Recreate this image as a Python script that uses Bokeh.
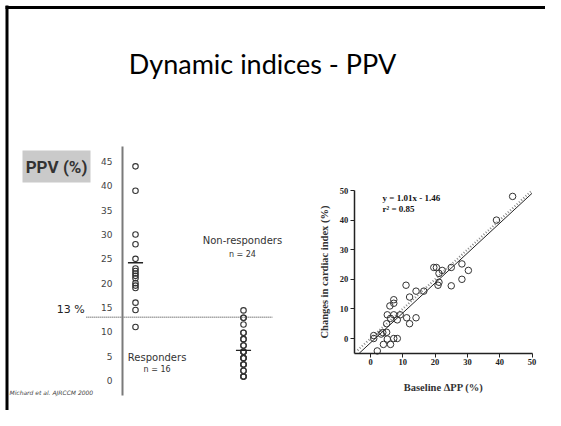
import numpy as np
from bokeh.plotting import figure
from bokeh.models import Range1d, LinearAxis, FixedTicker
from bokeh.embed import file_html
from bokeh.resources import INLINE
from bokeh.core.properties import value

# ---------------- data ----------------
title_text = "Dynamic indices - PPV"
group_labels = ["Responders", "Non-responders"]
group_n = [16, 24]
group_pos = [1, 2]
responders_ppv = [44, 39, 30, 28, 25, 23, 22.5, 22, 21.5, 21, 20, 19.5, 19, 16, 14.5, 11]
nonresponders_ppv = [14.4, 12.9, 12.9, 11.5, 9.8, 9.8, 8.5, 8.5, 7.2, 7.2, 5.9, 5.9,
                     5.9, 4.6, 4.6, 4.6, 3.3, 3.3, 3.3, 2.0, 2.0, 0.8, 0.8, 0.8]
group_means = [24.2, 6.2]
threshold_ppv = 13
ppv_ticks = [0, 5, 10, 15, 20, 25, 30, 35, 40, 45]
citation = "Michard et al. AJRCCM 2000"

baseline_dpp = [44.0, 39.0, 30.3, 28.3, 28.3, 25.0, 25.0, 22.2, 21.2, 19.6, 20.4, 21.2, 20.9,
                16.5, 14.1, 11.0, 12.1, 7.2, 7.2, 6.0, 5.2, 7.2, 9.2, 8.3, 6.2, 11.2, 14.1,
                12.1, 5.0, 5.0, 3.3, 1.0, 1.0, 5.2, 7.2, 8.3, 4.0, 6.2, 2.1, 3.8]
change_ci = [48.0, 40.0, 23.0, 25.2, 20.0, 24.0, 17.8, 23.0, 22.0, 24.0, 24.0, 19.0, 18.0,
             16.0, 16.0, 18.0, 14.0, 13.1, 11.9, 11.0, 8.0, 8.0, 8.0, 6.3, 6.8, 7.0, 7.0,
             5.0, 5.0, 2.1, 1.5, 1.0, 0.0, -0.2, 0.0, 0.0, -2.0, -2.0, -4.2, 2.0]
reg_slope = 1.01
reg_intercept = -1.46
r_squared = 0.85
ci_ticks = [0, 10, 20, 30, 40, 50]
ci_min, ci_max = -5, 50

# ---------------- layout helpers (pixel anchors) ----------------
W, H = 545, 410
X0, Y0 = 0, 0
XR = (X0, X0 + W)
YR = (Y0 + H, Y0)        # bottom, top


def lin_range(v0, p0, v1, p1, pixels):
    s = (v1 - v0) / (p1 - p0)
    return Range1d(v0 + (pixels[0] - p0) * s, v0 + (pixels[1] - p0) * s)


p = figure(width=W, height=H, output_backend="svg", toolbar_location=None,
           x_range=Range1d(*XR), y_range=Range1d(*YR),
           x_axis_location=None, y_axis_location=None, min_border=0)
p.grid.visible = False
p.outline_line_color = None
p.background_fill_color = "white"
p.border_fill_color = "white"

# left chart ranges: group 1 at x=135, group 2 at x=243 ; PPV 0 at y=380, 45 at y=161
p.extra_x_ranges["gx"] = lin_range(1, 135, 2, 243, XR)
p.extra_y_ranges["ppv"] = lin_range(0, 380, 45, 161, YR)
# right chart ranges
p.extra_x_ranges["dpp"] = lin_range(0, 370, 50, 531.5, XR)
p.extra_y_ranges["ci"] = lin_range(0, 338, 50, 190, YR)

# slide border
p.segment(x0=[6.5, 5], y0=[5, 7], x1=[6.5, 545], y1=[410, 7], line_color="black", line_width=3)

# title
p.text(x=[262], y=[63], text=[title_text], text_font=value("Lato"), text_font_size="27px",
       text_align="center", text_baseline="middle", text_color="black")

# ---------- left chart ----------
p.quad(left=[22], right=[90], top=[150], bottom=[182], fill_color="#cacaca", line_color=None)
p.text(x=[56], y=[166], text=["PPV (%)"], text_font=value("Roboto"), text_font_style="bold",
       text_font_size="17px", text_align="center", text_baseline="middle", text_color="#333333")

yax = LinearAxis(x_range_name="gx", y_range_name="ppv", fixed_location=1 - 13 / 108,
                 bounds=(-3, 48), ticker=FixedTicker(ticks=ppv_ticks))
yax.axis_line_color = "#7a7a7a"
yax.axis_line_width = 2
yax.major_tick_line_color = None
yax.minor_tick_line_color = None
yax.major_tick_out = 0
yax.major_tick_in = 0
yax.major_label_standoff = 10
yax.major_label_text_font = "DejaVu Sans"
yax.major_label_text_font_size = "9px"
yax.major_label_text_color = "#444444"
p.add_layout(yax, "left")

# threshold line
p.segment(x0=[0.545], x1=[2.27], y0=[threshold_ppv], y1=[threshold_ppv],
          x_range_name="gx", y_range_name="ppv", line_color="#777777", line_width=1.5,
          line_dash="1 1")
p.text(x=[0.53], y=[threshold_ppv + 0.2], text=[f"{threshold_ppv} %"], x_range_name="gx",
       y_range_name="ppv", text_font=value("DejaVu Sans"), text_font_size="11px",
       text_align="right", text_baseline="bottom", text_color="#222222")

p.scatter(x=[group_pos[0]] * len(responders_ppv), y=responders_ppv, x_range_name="gx",
          y_range_name="ppv", marker="circle", size=5.5, fill_color=None,
          line_color="#333333", line_width=1.1)
p.scatter(x=[group_pos[1]] * len(nonresponders_ppv), y=nonresponders_ppv, x_range_name="gx",
          y_range_name="ppv", marker="circle", size=5.5, fill_color=None,
          line_color="#333333", line_width=1.1)
p.segment(x0=[g - 0.07 for g in group_pos], x1=[g + 0.07 for g in group_pos],
          y0=group_means, y1=group_means, x_range_name="gx", y_range_name="ppv",
          line_color="#222222", line_width=1.3)

p.text(x=[1.2, 1.2], y=[4.8, 2.2], text=[group_labels[0], f"n = {group_n[0]}"],
       x_range_name="gx", y_range_name="ppv", text_font=value("DejaVu Sans"),
       text_font_size=["10px", "8px"], text_align="center", text_baseline="middle",
       text_color="#333333")
p.text(x=[1.99, 1.99], y=[28.8, 25.9], text=[group_labels[1], f"n = {group_n[1]}"],
       x_range_name="gx", y_range_name="ppv", text_font=value("DejaVu Sans"),
       text_font_size=["10px", "8px"], text_align="center", text_baseline="middle",
       text_color="#333333")

p.text(x=[9], y=[392], text=[citation], text_font=value("DejaVu Sans"),
       text_font_style="italic", text_font_size="6px", text_align="left",
       text_baseline="middle", text_color="#444444")

# ---------- right chart ----------
def style_ci_axis(ax):
    ax.axis_line_color = "#222222"
    ax.axis_line_width = 1.5
    ax.major_tick_line_color = "#222222"
    ax.major_tick_out = 4
    ax.major_tick_in = 0
    ax.minor_tick_line_color = None
    ax.major_label_standoff = 2
    ax.major_label_text_font = "Liberation Serif"
    ax.major_label_text_font_style = "bold"
    ax.major_label_text_font_size = "8.5px"
    ax.major_label_text_color = "#222222"
    ax.axis_label_text_font = "Liberation Serif"
    ax.axis_label_text_font_style = "bold"
    ax.axis_label_text_font_size = "10.5px"
    ax.axis_label_text_color = "#333333"


cy = LinearAxis(x_range_name="dpp", y_range_name="ci", fixed_location=ci_min,
                bounds=(ci_min, ci_max), ticker=FixedTicker(ticks=ci_ticks),
                axis_label="Changes in cardiac index (%)")
style_ci_axis(cy)
cy.axis_label_standoff = 7
p.add_layout(cy, "left")

cx = LinearAxis(x_range_name="dpp", y_range_name="ci", fixed_location=ci_min,
                bounds=(ci_min, ci_max), ticker=FixedTicker(ticks=ci_ticks),
                axis_label="Baseline \u0394PP (%)")
style_ci_axis(cx)
cx.axis_label_standoff = 13
p.add_layout(cx, "below")

# identity (dotted) and regression (solid) lines
p.line(x=[-4, ci_max], y=[-4, ci_max], x_range_name="dpp", y_range_name="ci",
       line_color="#8a8a8a", line_width=2.2, line_dash="1 2")
reg_x = np.array([(ci_min - reg_intercept) / reg_slope, ci_max])
p.line(x=reg_x, y=reg_slope * reg_x + reg_intercept, x_range_name="dpp", y_range_name="ci",
       line_color="#222222", line_width=1)

p.scatter(x=baseline_dpp, y=change_ci, x_range_name="dpp", y_range_name="ci",
          marker="circle", size=6.5, fill_color=None, line_color="#333333", line_width=1)

p.text(x=[382, 382], y=[197, 208],
       text=[f"y = {reg_slope:.2f}x - {abs(reg_intercept):.2f}", f"r\u00b2 = {r_squared:.2f}"],
       text_font=value("Liberation Serif"), text_font_style="bold", text_font_size="9px",
       text_align="left", text_baseline="middle", text_color="#111111")

open("out.html", "w").write(file_html(p, INLINE))
